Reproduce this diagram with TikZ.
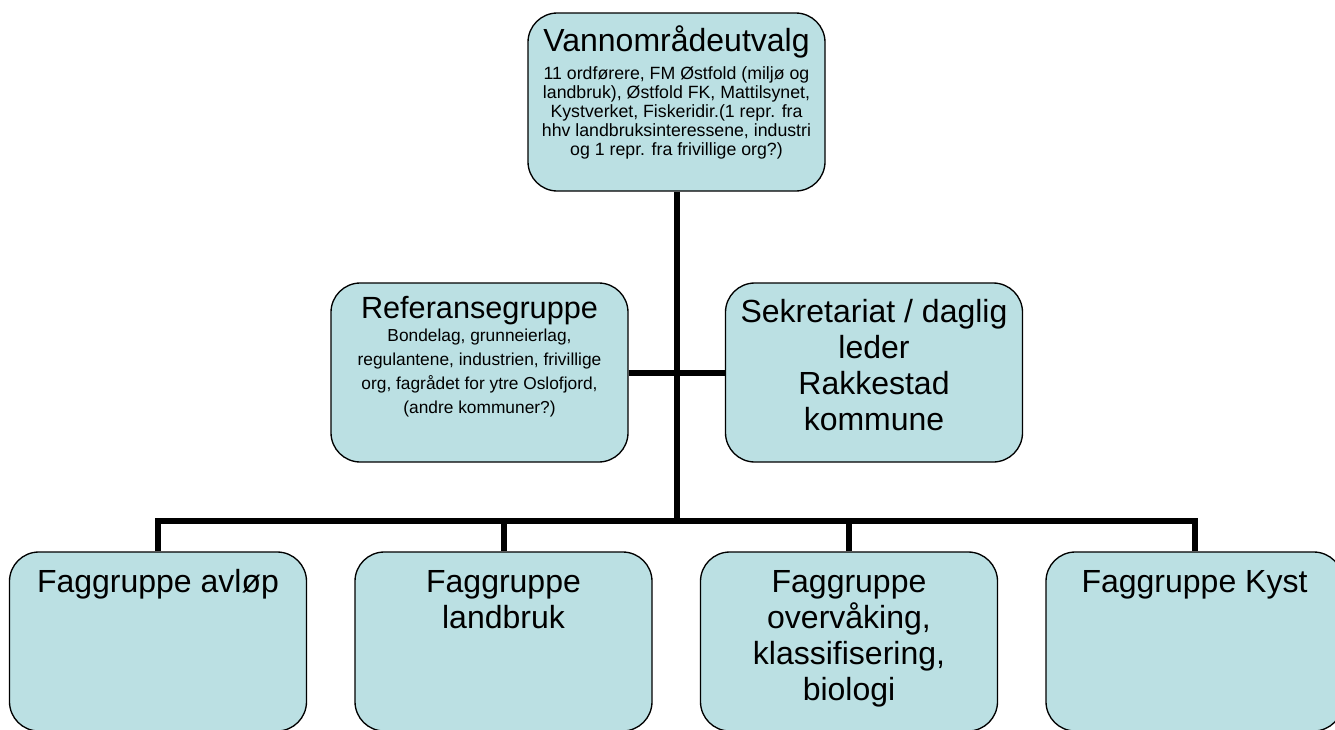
\documentclass[tikz,border=0pt]{standalone}
\usepackage{fontspec}
\setmainfont{Liberation Sans}
\usetikzlibrary{positioning}
\definecolor{boksfarge}{RGB}{187,224,227}
\tikzset{
  boks/.style={draw=black, line width=1pt, fill=boksfarge, rounded corners=22pt,
    minimum width=222.75pt, minimum height=134.25pt, inner sep=0pt},
  linje/.style={line width=4.5pt},
  tittel/.style={font=\fontsize{24}{27}\selectfont, align=center, anchor=base, inner sep=0pt},
  liten/.style={font=\fontsize{13.3}{14.25}\selectfont, align=center, anchor=base, inner sep=0pt},
  litenvid/.style={liten, font=\fontsize{13}{17.8}\selectfont}
}
\begin{document}
\begin{tikzpicture}[x=0.75pt,y=-0.75pt]
            \useasboundingbox (0,0) rectangle (1335,729);
            \node [boks, minimum height=133.5pt] (vu) at (676.5,102) {};
            \node [boks] (ref) at (479.5,372.5) {};
            \node [boks] (sek) at (874,372.5) {};
            \node [boks] (f1) at (158,641.5) {};
            \node [boks] (f2) at (503.5,641.5) {};
            \node [boks] (f3) at (849,641.5) {};
            \node [boks] (f4) at (1194.5,641.5) {};
            \coordinate (buss) at (676.5,521);
            \draw [linje] (vu.south) -- (buss);
            \draw [linje] (ref.east) -- (sek.west);
            \foreach \f in {f1,f2,f3,f4}
                \draw [linje] (\f.north) |- (buss);
            \node [tittel] (vu-tittel) at (676.5,51) {Vannområdeutvalg};
            \node [liten] (vu-tekst) at (676.5,155) {11 ordførere, FM Østfold (miljø og\\landbruk), Østfold FK, Mattilsynet,\\Kystverket, Fiskeridir.(1 repr. fra\\hhv landbruksinteressene, industri\\og 1 repr. fra frivillige org?)};
            \node [tittel, font=\fontsize{23}{26}\selectfont] (ref-tittel) at (479.5,318) {Referansegruppe};
            \node [litenvid] (ref-tekst) at (479.5,413) {Bondelag, grunneierlag,\\regulantene, industrien, frivillige\\org, fagrådet for ytre Oslofjord,\\(andre kommuner?)};
            \node [tittel] (sek-tekst) at (874,430) {Sekretariat / daglig\\leder\\Rakkestad\\kommune};
            \node [tittel] (f1-tekst) at (158,592) {Faggruppe avløp};
            \node [tittel] (f2-tekst) at (503.5,628) {Faggruppe\\landbruk};
            \node [tittel] (f3-tekst) at (849,700) {Faggruppe\\overvåking,\\klassifisering,\\biologi};
            \node [tittel] (f4-tekst) at (1194.5,592) {Faggruppe Kyst};
        \end{tikzpicture}
\end{document}
